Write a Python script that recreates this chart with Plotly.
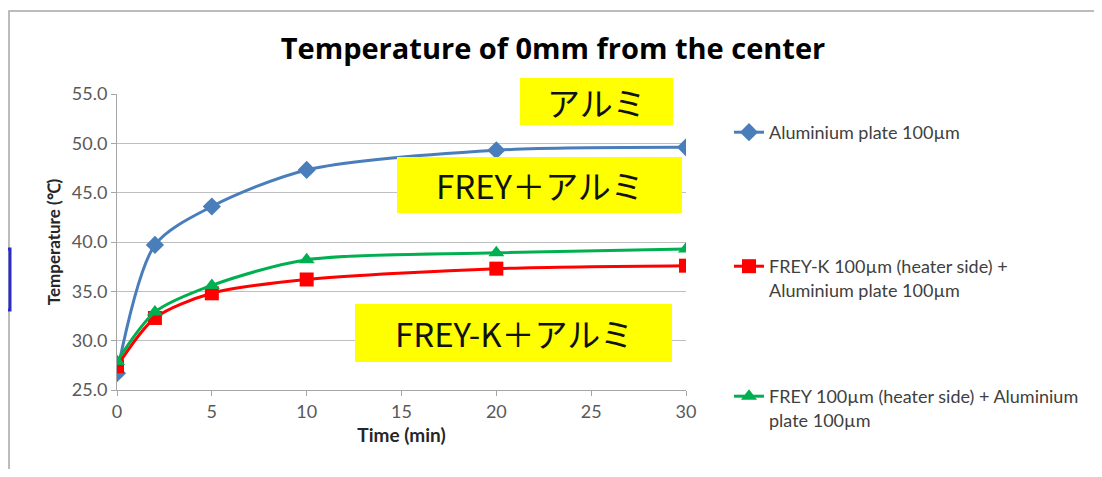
import plotly.graph_objects as go

time_min = [0, 2, 5, 10, 20, 30]
alu = [26.7, 39.7, 43.6, 47.3, 49.3, 49.6]
freyk_alu = [27.4, 32.3, 34.8, 36.2, 37.3, 37.6]
frey_alu = [27.9, 32.9, 35.6, 38.2, 38.9, 39.3]

names = ["Aluminium plate 100µm",
         "FREY-K 100µm (heater side) +<br>Aluminium plate 100µm",
         "FREY 100µm (heater side) + Aluminium<br>plate 100µm"]
box_labels = ["アルミ", "FREY＋アルミ", "FREY-K＋アルミ"]
y_ticks = [25, 30, 35, 40, 45, 50, 55]
x_ticks = [0, 5, 10, 15, 20, 25, 30]

OFF = 8  # page body margin
W, H = 1102 - OFF, 477 - 2 * OFF
L, R, T, B = 117, 686, 94, 390  # plot area in reference pixels

def px(x):
    return (x - L) / (R - L)

def py(y):
    return (B - y) / (B - T)

fig = go.Figure()
fig.add_trace(go.Scatter(x=time_min, y=alu, name=names[0], mode="lines+markers",
                         line=dict(color="#4a7ebb", width=3, shape="spline", smoothing=0.8),
                         marker=dict(symbol="diamond", size=14, color="#4a7ebb"),
                         legend="legend"))
fig.add_trace(go.Scatter(x=time_min, y=freyk_alu, name=names[1], mode="lines+markers",
                         line=dict(color="#ff0000", width=3, shape="spline", smoothing=0.8),
                         marker=dict(symbol="square", size=14, color="#ff0000"),
                         legend="legend2"))
fig.add_trace(go.Scatter(x=time_min, y=frey_alu, name=names[2], mode="lines+markers",
                         line=dict(color="#00b050", width=3, shape="spline", smoothing=0.8),
                         marker=dict(symbol="triangle-up", size=14, color="#00b050"),
                         legend="legend3"))

shapes = []
shapes.append(dict(type="rect", xref="paper", yref="paper",
                   x0=px(9), x1=px(1097), y0=py(520), y1=py(11),
                   line=dict(color="#a6a6a6", width=1.5), fillcolor="rgba(0,0,0,0)", layer="below"))
shapes.append(dict(type="rect", xref="paper", yref="paper",
                   x0=px(-8), x1=px(10), y0=py(310), y1=py(249),
                   line=dict(color="#2b2bc8", width=3), fillcolor="rgba(0,0,0,0)"))
boxes = [(520, 673, 78, 125), (397, 682, 157, 213), (355, 672, 304, 362)]
for (x0, x1, y0, y1) in boxes:
    shapes.append(dict(type="rect", xref="paper", yref="paper",
                       x0=px(x0), x1=px(x1), y0=py(y1), y1=py(y0),
                       line=dict(width=0), fillcolor="#ffff00", layer="above"))

annotations = []
for (x0, x1, y0, y1), lab in zip(boxes, box_labels):
    annotations.append(dict(xref="paper", yref="paper", x=px((x0 + x1) / 2), y=py((y0 + y1) / 2),
                            text=lab, showarrow=False, xanchor="center", yanchor="middle",
                            font=dict(family="Noto Sans CJK JP", size=33, color="#111111")))

leg_font = dict(family="Lato", size=18, color="#404040")
def leg(ytop):
    return dict(x=px(729), y=py(ytop), xanchor="left", yanchor="top", font=leg_font,
                valign="top", bgcolor="rgba(0,0,0,0)")

fig.update_layout(
    width=W, height=H,
    margin=dict(l=L - OFF, r=W - (R - OFF), t=T - OFF, b=H - (B - OFF)),
    paper_bgcolor="white", plot_bgcolor="white",
    title=dict(text="<b>Temperature of 0mm from the center</b>", xref="paper", x=px(553),
               xanchor="center", yref="container", y=1 - (49 - OFF) / H, yanchor="middle",
               font=dict(family="Open Sans", size=29, color="#000000")),
    xaxis=dict(range=[0, 30], tickvals=x_ticks, ticktext=[str(v) for v in x_ticks],
               showgrid=False, showline=True, linecolor="#a6a6a6", linewidth=1,
               ticks="outside", ticklen=5, tickcolor="#a6a6a6", zeroline=False,
               tickfont=dict(family="Lato", size=18, color="#595959"),
               title=dict(text="<b>Time (min)</b>", font=dict(family="Lato", size=19, color="#262626"),
                          standoff=8)),
    yaxis=dict(range=[25, 55], tickvals=y_ticks, ticktext=["%.1f" % v for v in y_ticks],
               showgrid=True, gridcolor="#bfbfbf", gridwidth=1, showline=True,
               linecolor="#a6a6a6", linewidth=1, ticks="outside", ticklen=5, tickcolor="#a6a6a6",
               zeroline=False,
               tickfont=dict(family="Lato", size=18, color="#595959"),
               title=dict(text="<b>Temperature (℃)</b>", font=dict(family="Lato", size=17, color="#262626"),
                          standoff=6)),
    legend=leg(114),
    legend2=leg(248),
    legend3=leg(378),
    shapes=shapes, annotations=annotations,
    showlegend=True,
)

fig.write_html("out.html")
